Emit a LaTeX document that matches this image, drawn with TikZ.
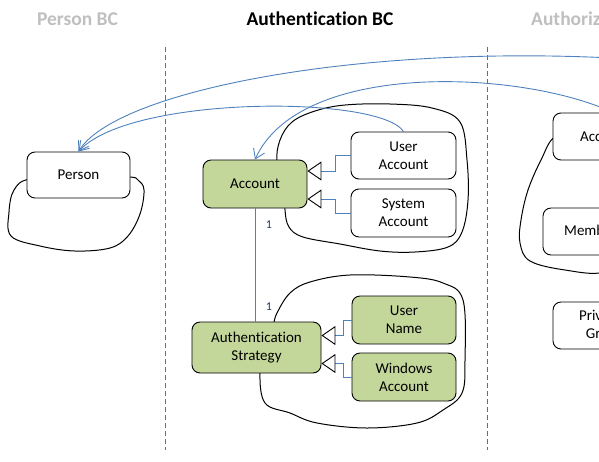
\documentclass[tikz,border=0pt]{standalone}
\usepackage{fontspec}
\setmainfont{Carlito}[Ligatures=NoCommon]
\usetikzlibrary{arrows.meta,calc}
\definecolor{boxgreen}{HTML}{C4D79B}
\definecolor{linkblue}{HTML}{4F81BD}
\definecolor{sepblue}{HTML}{4A72A8}
\definecolor{titlegray}{HTML}{BFBFBF}
\definecolor{labelblue}{HTML}{1F3B60}
\begin{document}
\begin{tikzpicture}[x=1pt,y=-1pt,
  box/.style={draw=black, line width=0.9pt, rounded corners=8pt, fill=white,
    minimum width=#1, minimum height=47pt, inner sep=0pt, align=center,
    font=\fontsize{15}{18}\selectfont},
  box/.default=104pt,
  greenbox/.style={box=#1, fill=boxgreen},
  greenbox/.default=104pt,
  lasso/.style={draw=black, line width=1pt},
  sep/.style={draw=sepblue, line width=0.9pt, dash pattern=on 5pt off 3pt},
  assoc/.style={draw=linkblue, line width=0.9pt, -{Straight Barb[length=9pt,width=12pt]}},
  gen/.style={draw=linkblue, line width=0.9pt,
    -{Triangle[open, length=14pt, width=19pt, color=black, line width=0.9pt]}},
  title/.style={font=\fontsize{19.5}{22}\selectfont\bfseries, anchor=base, inner sep=0pt},
  mult/.style={font=\fontsize{12}{14}\selectfont, text=labelblue, inner sep=0pt}
]
\useasboundingbox (0,0) rectangle (599,461);
\clip (0,0) rectangle (599,461);

% titles
\node[title, text=titlegray] (tperson) at (77.5,25) {Person BC};
\node[title, text=black] (tauthn) at (320,25) {Authentication BC};
\node[title, text=titlegray, anchor=base west] (tauthz) at (531,25) {Authorization BC};

% separators
\coordinate (s1a) at (165,47); \coordinate (s1b) at (165,450);
\coordinate (s2a) at (487,47); \coordinate (s2b) at (487,450);
\draw[sep] (s1a) -- (s1b);
\draw[sep] (s2a) -- (s2b);

% lassos
\draw[lasso] plot[smooth cycle, tension=0.6] coordinates {(78,178) (30,179) (14,190) (9,212) (11,236) (40,246) (75,251) (110,248) (128,236) (140,214) (144,190) (138,180) (128,177)};
\draw[lasso] plot[smooth cycle, tension=0.6] coordinates {(285,185) (277,162) (280,140) (292,122) (315,111) (345,105) (390,104) (432,108) (460,122) (467,160) (468,200) (462,232) (448,247) (415,252) (380,251) (340,244) (303,237) (289,227) (285,210)};
\draw[lasso] plot[smooth cycle, tension=0.6] coordinates {(266,350) (260,373) (265,403) (290,413) (317,423) (367,428) (417,423) (443,410) (462,393) (465,360) (463,300) (443,283) (410,277) (350,275) (310,282) (290,293) (277,313) (273,326)};
\draw[lasso] plot[smooth cycle, tension=0.6] coordinates {(580,140) (555,137) (541,160) (528,190) (521,220) (520,243) (530,261) (565,270) (605,272) (640,250) (640,150)};

% nodes
\node[box=103pt, minimum height=46pt] (person) at (78.5,175) {Person};
\node[greenbox, minimum height=48pt] (account) at (255,184) {Account};
\node[box=105pt] (useracc) at (403.5,155.5) {User\\Account};
\node[box=105pt, minimum height=48pt] (sysacc) at (403.5,213) {System\\Account};
\node[greenbox=129pt, minimum height=51pt] (authstrat) at (256.5,347.5) {Authentication\\Strategy};
\node[greenbox, minimum height=48pt] (username) at (404,320) {User\\Name};
\node[greenbox, minimum height=48pt] (winacc) at (404,377) {Windows\\Account};
\node[box] (zaccount) at (605,136.5) {Account};
\node[box=120pt] (zmember) at (603,231.5) {Membership};
\node[box] (zgroup) at (605,325.5) {Privilege\\Group};

% generalizations
\draw[gen] (useracc.west) -- ++(-15,0) |- ([yshift=13pt]account.east);
\draw[gen] (sysacc.west) -- ++(-15,0) |- ([yshift=-15pt]account.east);
\draw[gen] (username.west) -- ++(-8,0) |- ([yshift=12pt]authstrat.east);
\draw[gen] (winacc.west) -- ++(-8,0) |- ([yshift=-16pt]authstrat.east);

% association account -- strategy
\draw[draw=linkblue, line width=0.9pt] (account.south) -- (account.south |- authstrat.north);
\node[mult] (m1) at (269,225) {1};
\node[mult] (m2) at (269,307) {1};

% cross-context references
\coordinate (offa) at (612,58);
\coordinate (offc) at (612,112);
\draw[assoc] (offa) .. controls (350,45) and (115,92) .. (person.north);
\draw[assoc] (useracc.north) .. controls (380,95) and (130,95) .. (person.north);
\draw[assoc] (offc) .. controls (520,70) and (300,60) .. (account.north);
\end{tikzpicture}
\end{document}
